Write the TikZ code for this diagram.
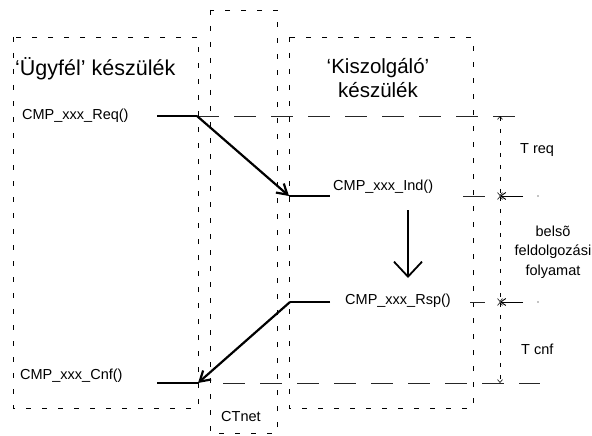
\documentclass[tikz,border=0pt]{standalone}
\usepackage{fontspec}
\setmainfont{Liberation Sans}
\usetikzlibrary{arrows.meta}
\begin{document}
\begin{tikzpicture}[x=1pt,y=-1pt,
 boxline/.style={draw=black, line width=0.8pt, dash pattern=on 5pt off 11pt},
 timeline/.style={draw=black!85, line width=0.8pt, dash pattern=on 22pt off 15pt},
 msg/.style={draw=black, line width=2.4pt},
 msgarrow/.style={draw=black, line width=2.2pt, -{Straight Barb[length=10pt,width=12pt]}},
 procarrow/.style={draw=black, line width=2.2pt, -{Straight Barb[length=15pt,width=28pt,line width=1.8pt]}},
 dimline/.style={draw=black, line width=0.8pt, dash pattern=on 4pt off 8pt,
   {Straight Barb[length=3pt,width=5pt,line width=0.6pt]}-{Straight Barb[length=3pt,width=5pt,line width=0.6pt]}},
 sidearrow/.style={draw=black, line width=0.9pt, -{Straight Barb[length=5pt,width=7pt]}},
 lbl/.style={font=\fontsize{14.5}{19.5}\selectfont, inner sep=0pt},
 title/.style={font=\fontsize{21.5}{24}\selectfont, inner sep=0pt, align=center}]
\useasboundingbox (0,0) rectangle (592,436);

% boxes
\draw[boxline] (13,37) rectangle (198,408);
\draw[boxline] (210,10) rectangle (277,433);
\draw[boxline] (289,37) rectangle (473,408);

% texts
\node[title, anchor=west] (ugyfel) at (15,69) {‘Ügyfél’ készülék};
\node[title, font=\fontsize{20.5}{24}\selectfont] (kiszolg) at (378,78) {‘Kiszolgáló’\\készülék};
\node[lbl, anchor=west] (req) at (22,116) {CMP\_xxx\_Req()};
\node[lbl, anchor=west] (ind) at (333,187) {CMP\_xxx\_Ind()};
\node[lbl, anchor=west] (rsp) at (345,301) {CMP\_xxx\_Rsp()};
\node[lbl, anchor=west] (cnf) at (20,376) {CMP\_xxx\_Cnf()};
\node[lbl, anchor=west] (treq) at (520,150) {T req};
\node[lbl, anchor=west] (tcnf) at (521,349) {T cnf};
\node[lbl, align=center] (belso) at (553,252) {belsõ\\feldolgozási\\folyamat};
\node[lbl, anchor=west] (ctnet) at (221,417) {CTnet};

% coordinates
\coordinate (reqA) at (157,116);
\coordinate (reqB) at (197,116);
\coordinate (reqEnd) at (528,116);
\coordinate (indA) at (289,196);
\coordinate (indB) at (330,196);
\coordinate (rspA) at (330,302);
\coordinate (rspB) at (290,302);
\coordinate (cnfA) at (198,383);
\coordinate (cnfB) at (157,383);
\coordinate (cnfS) at (223,383);
\coordinate (cnfEnd) at (540,383);
\coordinate (procTop) at (408,210);
\coordinate (procBot) at (408,278);
\coordinate (dReq) at (500,116);
\coordinate (dInd) at (500,196);
\coordinate (dRsp) at (500,302);
\coordinate (dCnf) at (500,383);
\coordinate (indT1) at (463,196);
\coordinate (indT2) at (485,196);
\coordinate (indR) at (523,196);
\coordinate (rspT1) at (470,302);
\coordinate (rspT2) at (485,302);
\coordinate (rspR) at (523,302);

% timelines
\draw[timeline] (reqB) -- (reqEnd);
\draw[timeline] (cnfS) -- (cnfEnd);
\draw[timeline, dash pattern=] (indT1) -- (indT2);
\draw[timeline, dash pattern=] (rspT1) -- (rspT2);
\fill (538,196) circle (0.7pt);
\fill (538,302) circle (0.7pt);

% messages
\draw[msg] (reqA) -- (reqB);
\draw[msgarrow] (reqB) -- (indA);
\draw[msg] (indA) -- (indB);
\draw[msg] (rspA) -- (rspB);
\draw[msgarrow] (rspB) -- (cnfA);
\draw[msg] (cnfA) -- (cnfB);
\draw[procarrow] (procTop) -- (procBot);

% dimensions
\draw[dimline] (dReq) -- (dInd);
\draw[dimline] (dInd) -- (dRsp);
\draw[dimline] (dRsp) -- (dCnf);
\draw[sidearrow] (indR) -- (dInd);
\draw[sidearrow] (rspR) -- (dRsp);
\end{tikzpicture}
\end{document}
